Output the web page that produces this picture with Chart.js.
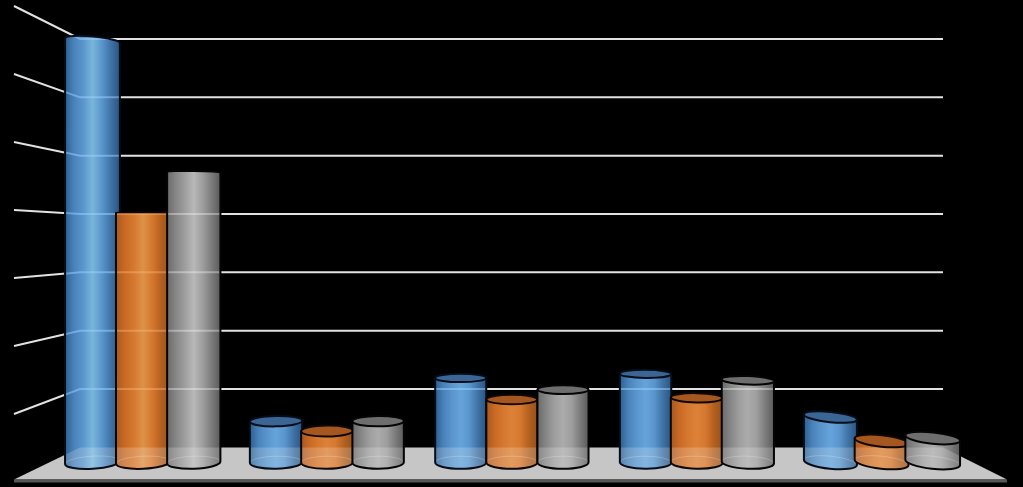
<!DOCTYPE html>
<html>
<head>
<meta charset="utf-8">
<style>html,body{margin:0;padding:0;background:#000}canvas{display:block}</style>
<script src="https://cdn.jsdelivr.net/npm/chart.js@4"></script>
</head>
<body>
<canvas id="c" width="1023" height="487"></canvas>
<script>
const categories = ['1', '2', '3', '4', '5'];
const series1 = [6.97, 0.45, 1.19, 1.26, 0.52];
const series2 = [4.03, 0.28, 0.82, 0.85, 0.11];
const series3 = [4.72, 0.45, 0.99, 1.15, 0.16];
const gridValues = [0, 1, 2, 3, 4, 5, 6, 7];
const FLOOR_VALUE = -0.259;

const palette = [
  {stops:['#2e5f90','#4a83bb','#5a96cd','#79b6da','#5a96cd','#3f73a6','#2a547f'], soft:'#66a3da', cap:'#3a6594', line:'#050d18', glow:'rgba(160,210,255,0.5)'},
  {stops:['#a8581f','#c96a25','#d6782f','#dc9248','#d6782f','#b4601f','#96501b'], soft:'#dc8238', cap:'#a5571f', line:'#0f0702', glow:'rgba(255,190,130,0.4)'},
  {stops:['#6a6a6a','#868686','#9e9e9e','#b8b8b8','#9e9e9e','#7c7c7c','#5a5a5a'], soft:'#ababab', cap:'#6e6e6e', line:'#050505', glow:'rgba(255,255,255,0.35)'}
];

const EYE_Y = 212, MID_X = 512, FLAT = 0.025;
const backL = 80, backR = 943, wallX = 14, frontR = 1007;

function radiusY(y){ return FLAT * (y - EYE_Y); }
function tilt(x, y){
  const d = x - MID_X;
  const side = d > 0 ? Math.min(6, 6 * Math.pow(d / 320, 3)) : -2 * Math.pow(d / 320, 2);
  const level = Math.max(-1.5, Math.min(1, (y - EYE_Y) / 100));
  return side * level * Math.PI / 180;
}
function wallY(v){ return 6 + (7 - v) * 68; }
function hGradient(g, x0, x1, stops){
  const gr = g.createLinearGradient(x0, 0, x1, 0);
  stops.forEach((c, i) => gr.addColorStop(i / (stops.length - 1), c));
  return gr;
}
function drawGrid(chart, g){
  const s = chart.scales.y;
  gridValues.forEach(v => {
    if (v === 0) return;
    const y = s.getPixelForValue(v);
    g.beginPath();
    g.moveTo(wallX, wallY(v));
    g.lineTo(backL, y);
    g.lineTo(backR, y);
    g.stroke();
  });
}
function floorPath(chart, g){
  const y0 = chart.scales.y.getPixelForValue(0);
  g.beginPath();
  g.moveTo(wallX, 479.5);
  g.lineTo(backL, y0);
  g.lineTo(backR, y0);
  g.lineTo(frontR, 479.5);
  g.closePath();
}
function drawCylinder(chart, g, bar, p){
  const d = Math.abs(bar.x - MID_X) / 421;
  const cx = bar.x + (bar.x < MID_X ? 1.5 * Math.pow(d, 4) : 0);
  const hw = (51 + 4 * d * d) / 2;
  const ty = bar.y, by = bar.base;
  const tr = Math.abs(radiusY(ty)), br = radiusY(by);
  const ta = tilt(cx, ty), ba = tilt(cx, by);
  const tall = by - ty > 150;
  const stops = p.stops.slice();
  if (!tall) stops[3] = p.soft;
  const shape = () => {
    g.beginPath();
    g.ellipse(cx, by, hw, br, ba, Math.PI, 0, true);
    g.ellipse(cx, ty, hw, Math.max(tr, 0.01), ta, 0, -Math.PI, true);
    g.closePath();
  };
  g.save();
  shape();
  g.fillStyle = hGradient(g, cx - hw, cx + hw, stops);
  g.fill();
  g.save();
  shape();
  g.clip();
  floorPath(chart, g);
  g.fillStyle = 'rgba(255,255,255,0.2)';
  g.fill();
  g.strokeStyle = p.glow;
  g.lineWidth = 2;
  drawGrid(chart, g);
  g.strokeStyle = 'rgba(255,255,255,0.22)';
  g.lineWidth = 1;
  g.beginPath();
  g.ellipse(cx, by, hw, br, ba, Math.PI, 0, false);
  g.stroke();
  g.restore();
  if (radiusY(ty) > 0.8) {
    g.beginPath();
    g.ellipse(cx, ty, hw, tr, ta, 0, Math.PI * 2);
    g.fillStyle = p.cap;
    g.fill();
    g.beginPath();
    g.ellipse(cx, ty, hw, tr, ta, 0, Math.PI);
    g.strokeStyle = p.line;
    g.lineWidth = 2;
    g.stroke();
  }
  shape();
  g.strokeStyle = p.line;
  g.lineWidth = 2;
  g.stroke();
  g.restore();
}

const scenePlugin = {
  id: 'scene',
  beforeDatasetsDraw(chart){
    const g = chart.ctx;
    g.save();
    g.fillStyle = '#000';
    g.fillRect(0, 0, chart.width, chart.height);
    floorPath(chart, g);
    g.fillStyle = '#c6c6c6';
    g.fill();
    g.fillStyle = '#565656';
    g.fillRect(wallX, 479.5, frontR - wallX, 3);
    g.strokeStyle = '#e2e2e2';
    g.lineWidth = 2;
    drawGrid(chart, g);
    g.restore();
  },
  afterDatasetsDraw(chart){
    const g = chart.ctx;
    palette.forEach((p, i) => {
      chart.getDatasetMeta(i).data.forEach(bar => drawCylinder(chart, g, bar, p));
    });
  }
};

new Chart(document.getElementById('c'), {
  type: 'bar',
  data: {
    labels: categories,
    datasets: [series1, series2, series3].map((values, i) => ({
      label: 'Series ' + (i + 1),
      data: values,
      base: FLOOR_VALUE,
      backgroundColor: palette[i].stops[2],
      borderWidth: 0,
      barPercentage: 1,
      categoryPercentage: 0.83
    }))
  },
  options: {
    responsive: false,
    animation: false,
    layout: {padding: {left: 49.7, right: 49, top: 39, bottom: 24.5}},
    plugins: {legend: {display: false}, tooltip: {enabled: false}, title: {display: false}},
    scales: {
      x: {display: false},
      y: {display: false, min: FLOOR_VALUE, max: 7, ticks: {stepSize: 1}}
    }
  },
  plugins: [scenePlugin]
});
</script>
</body>
</html>
